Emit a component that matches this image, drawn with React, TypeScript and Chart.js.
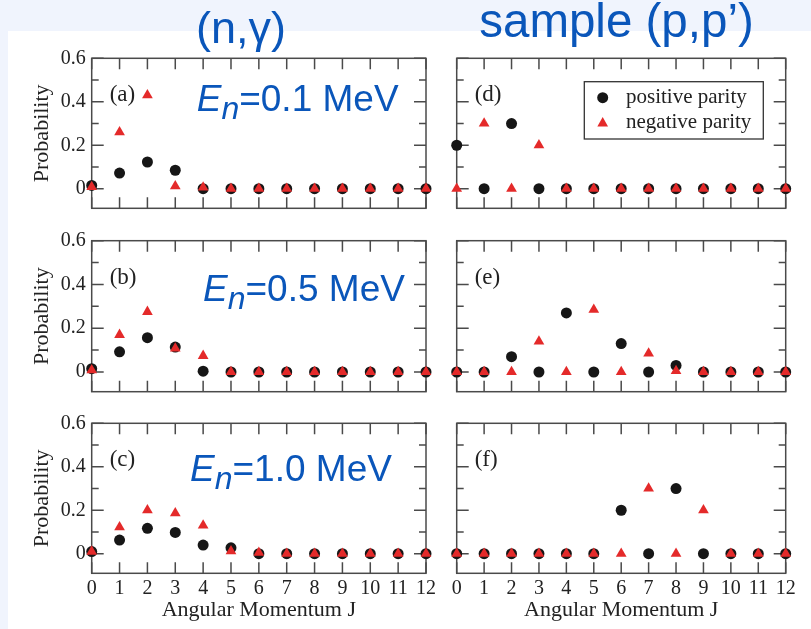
import React, { useEffect, useRef } from 'react';
import { Chart, registerables } from 'chart.js';

Chart.register(...registerables);

// ---------- data ----------
const angularMomentumJ = [0, 1, 2, 3, 4, 5, 6, 7, 8, 9, 10, 11, 12];
const yMajorTicks = [0, 0.2, 0.4, 0.6];
const yMinorTicks = [0.1, 0.3, 0.5];
const seriesNames = ['positive parity', 'negative parity'];
const panelLabels = ['(a)', '(b)', '(c)', '(d)', '(e)', '(f)'];
const energyValues = ['0.1', '0.5', '1.0'];
const columnTitles = ['(n,γ)', 'sample (p,p’)'];
const xAxisTitle = 'Angular Momentum J';
const yAxisTitle = 'Probability';

// (n,gamma) panels
const positiveA = [0.015, 0.072, 0.123, 0.085, 0, 0, 0, 0, 0, 0, 0, 0, 0];
const negativeA = [0.008, 0.26, 0.43, 0.012, 0.006, 0, 0, 0, 0, 0, 0, 0, 0];
const positiveB = [0.015, 0.092, 0.157, 0.114, 0.004, 0, 0, 0, 0, 0, 0, 0, 0];
const negativeB = [0.008, 0.17, 0.275, 0.108, 0.074, 0, 0, 0, 0, 0, 0, 0, 0];
const positiveC = [0.01, 0.063, 0.117, 0.098, 0.04, 0.027, 0, 0, 0, 0, 0, 0, 0];
const negativeC = [0.01, 0.122, 0.2, 0.187, 0.13, 0.012, 0.005, 0, 0, 0, 0, 0, 0];
// sample (p,p') panels
const positiveD = [0.2, 0, 0.3, 0, 0, 0, 0, 0, 0, 0, 0, 0, 0];
const negativeD = [0, 0.3, 0, 0.2, 0, 0, 0, 0, 0, 0, 0, 0, 0];
const positiveE = [0, 0, 0.07, 0, 0.27, 0, 0.13, 0, 0.03, 0, 0, 0, 0];
const negativeE = [0, 0, 0, 0.14, 0, 0.285, 0, 0.085, 0.005, 0, 0, 0, 0];
const positiveF = [0, 0, 0, 0, 0, 0, 0.2, 0, 0.3, 0, 0, 0, 0];
const negativeF = [0, 0, 0, 0, 0, 0, 0, 0.3, 0, 0.2, 0, 0, 0];

// ---------- styles / layout ----------
const SERIF = "'Liberation Serif', 'Times New Roman', Times, serif";
const SANS = "'Liberation Sans', Arial, Helvetica, sans-serif";
const BLUE = '#0a56ba';
const RED = '#e42a2a';
const BLACK = '#161616';
const AXIS = '#4a4a4a';
const TEXT = '#222222';

const COLS = [
  { left: 8, width: 433, padLeft: 0, padRight: 15, yWidth: 83.7, showY: true },
  { left: 441, width: 370, padLeft: 15.7, padRight: 25.3, yWidth: 0, showY: false },
];
const ROWS = [
  { top: 31, height: 189, padTop: 27.3, xHeight: 11.7, showX: false },
  { top: 220, height: 185, padTop: 20.7, xHeight: 13.3, showX: false },
  { top: 405, height: 224, padTop: 18.3, xHeight: 55.7, showX: true },
];
const ENERGY_POS = [
  { x: 196.7, baseline: 111.7 },
  { x: 203, baseline: 301.7 },
  { x: 190, baseline: 481.7 },
];
const TITLE_POS = [
  { cx: 241, baseline: 43.3, size: 45 },
  { cx: 616.5, baseline: 36.7, size: 47.5 },
];

const PANELS = [
  { col: 0, row: 0, pos: positiveA, neg: negativeA, legend: false },
  { col: 0, row: 1, pos: positiveB, neg: negativeB, legend: false },
  { col: 0, row: 2, pos: positiveC, neg: negativeC, legend: false },
  { col: 1, row: 0, pos: positiveD, neg: negativeD, legend: true },
  { col: 1, row: 1, pos: positiveE, neg: negativeE, legend: false },
  { col: 1, row: 2, pos: positiveF, neg: negativeF, legend: false },
];

function drawTriangle(ctx: CanvasRenderingContext2D, x: number, y: number, r: number) {
  ctx.beginPath();
  for (let k = 0; k < 3; k++) {
    const a = (k * 2 * Math.PI) / 3;
    const px = x + Math.sin(a) * r;
    const py = y - Math.cos(a) * r;
    if (k === 0) ctx.moveTo(px, py);
    else ctx.lineTo(px, py);
  }
  ctx.closePath();
  ctx.fill();
}

function makeOverlay(label: string, showLegend: boolean) {
  return {
    id: 'frameOverlay',
    beforeDatasetsDraw(chart: any) {
      const { ctx, chartArea } = chart;
      const { left, right, top, bottom } = chartArea;
      const xs = chart.scales.x;
      const ys = chart.scales.y;
      ctx.save();
      ctx.strokeStyle = AXIS;
      ctx.lineWidth = 1.5;
      ctx.strokeRect(left, top, right - left, bottom - top);
      ctx.beginPath();
      for (const j of angularMomentumJ) {
        const px = xs.getPixelForValue(j);
        ctx.moveTo(px, bottom);
        ctx.lineTo(px, bottom - 11);
        ctx.moveTo(px, top);
        ctx.lineTo(px, top + 11);
      }
      for (const v of yMajorTicks) {
        const py = ys.getPixelForValue(v);
        ctx.moveTo(left, py);
        ctx.lineTo(left + 12, py);
        ctx.moveTo(right, py);
        ctx.lineTo(right - 12, py);
      }
      for (const v of yMinorTicks) {
        const py = ys.getPixelForValue(v);
        ctx.moveTo(left, py);
        ctx.lineTo(left + 7, py);
        ctx.moveTo(right, py);
        ctx.lineTo(right - 7, py);
      }
      ctx.stroke();
      ctx.restore();
    },
    afterDatasetsDraw(chart: any) {
      const { ctx, chartArea } = chart;
      const { left, right, top } = chartArea;
      ctx.save();
      ctx.fillStyle = TEXT;
      ctx.font = `23px ${SERIF}`;
      ctx.textAlign = 'left';
      ctx.textBaseline = 'alphabetic';
      ctx.fillText(label, left + 18, top + 43);
      if (showLegend) {
        const bw = 179;
        const bh = 57.3;
        const bx = right - 22.4 - bw;
        const by = top + 23.4;
        ctx.fillStyle = '#ffffff';
        ctx.fillRect(bx, by, bw, bh);
        ctx.strokeStyle = '#333333';
        ctx.lineWidth = 1.3;
        ctx.strokeRect(bx, by, bw, bh);
        ctx.fillStyle = BLACK;
        ctx.beginPath();
        ctx.arc(bx + 18.4, top + 39.4, 5.5, 0, Math.PI * 2);
        ctx.fill();
        ctx.fillStyle = RED;
        drawTriangle(ctx, bx + 18.4, top + 65, 6.2);
        ctx.fillStyle = TEXT;
        ctx.font = `21px ${SERIF}`;
        ctx.fillText(seriesNames[0], bx + 41.7, top + 44.4);
        ctx.fillText(seriesNames[1], bx + 41.7, top + 70);
      }
      ctx.restore();
    },
  };
}

function zeroPadding(s: any) {
  s.paddingTop = 0;
  s.paddingBottom = 0;
  s.paddingLeft = 0;
  s.paddingRight = 0;
}

function Panel({ index }: { index: number }) {
  const ref = useRef<HTMLCanvasElement>(null);
  const p = PANELS[index];
  const c = COLS[p.col];
  const r = ROWS[p.row];
  useEffect(() => {
    const chart = new Chart(ref.current as HTMLCanvasElement, {
      type: 'scatter',
      data: {
        datasets: [
          {
            label: seriesNames[1],
            data: angularMomentumJ.map((j, i) => ({ x: j, y: p.neg[i] })),
            pointStyle: 'triangle',
            pointRadius: 6.2,
            backgroundColor: RED,
            borderColor: RED,
            borderWidth: 0,
            clip: false,
          } as any,
          {
            label: seriesNames[0],
            data: angularMomentumJ.map((j, i) => ({ x: j, y: p.pos[i] })),
            pointStyle: 'circle',
            pointRadius: 5.5,
            backgroundColor: BLACK,
            borderColor: BLACK,
            borderWidth: 0,
            clip: false,
          } as any,
        ],
      },
      options: {
        responsive: false,
        animation: false,
        devicePixelRatio: 1,
        layout: { padding: { left: c.padLeft, right: c.padRight, top: r.padTop, bottom: 0 } },
        plugins: { legend: { display: false }, tooltip: { enabled: false } },
        scales: {
          x: {
            type: 'linear',
            min: 0,
            max: 12,
            grid: { display: false, drawTicks: false },
            border: { display: false },
            afterBuildTicks: (s: any) => {
              s.ticks = angularMomentumJ.map((v) => ({ value: v }));
            },
            afterFit: (s: any) => {
              s.height = r.xHeight;
              zeroPadding(s);
            },
            ticks: {
              display: r.showX,
              padding: 3,
              autoSkip: false,
              maxRotation: 0,
              color: TEXT,
              font: { family: SERIF, size: 20 },
              callback: (v: any) => String(v),
            },
            title: {
              display: r.showX,
              text: xAxisTitle,
              color: TEXT,
              font: { family: SERIF, size: 22 },
              padding: { top: 0, bottom: 5.8 },
            },
          },
          y: {
            type: 'linear',
            min: -0.09,
            max: 0.6,
            grid: { display: false, drawTicks: false },
            border: { display: false },
            afterBuildTicks: (s: any) => {
              s.ticks = yMajorTicks.map((v) => ({ value: v }));
            },
            afterFit: (s: any) => {
              s.width = c.yWidth;
              zeroPadding(s);
            },
            ticks: {
              display: c.showY,
              padding: 6,
              color: TEXT,
              font: { family: SERIF, size: 20 },
              callback: (v: any) => (v === 0 ? '0' : Number(v).toFixed(1)),
            },
            title: {
              display: c.showY,
              text: yAxisTitle,
              color: TEXT,
              font: { family: SERIF, size: 22 },
              padding: { top: 20.8, bottom: 0 },
            },
          },
        },
      } as any,
      plugins: [makeOverlay(panelLabels[index], p.legend)],
    });
    return () => chart.destroy();
  }, []);
  return (
    <canvas
      ref={ref}
      width={c.width}
      height={r.height}
      style={{ position: 'absolute', left: c.left, top: r.top, width: c.width, height: r.height }}
    />
  );
}

export default function App() {
  const enSize = 37;
  return (
    <div
      style={{
        position: 'absolute',
        left: 0,
        top: 0,
        width: 811,
        height: 629,
        background: '#f0f4fd',
        overflow: 'hidden',
      }}
    >
      <div style={{ position: 'absolute', left: 8, top: 31, width: 803, height: 598, background: '#ffffff' }} />
      {PANELS.map((_, i) => (
        <Panel key={i} index={i} />
      ))}
      {columnTitles.map((t, i) => (
        <div
          key={'t' + i}
          style={{
            position: 'absolute',
            left: TITLE_POS[i].cx - 200,
            width: 400,
            top: TITLE_POS[i].baseline - 0.8465 * TITLE_POS[i].size,
            textAlign: 'center',
            fontFamily: SANS,
            fontSize: TITLE_POS[i].size,
            lineHeight: `${TITLE_POS[i].size}px`,
            color: BLUE,
            whiteSpace: 'nowrap',
          }}
        >
          {t}
        </div>
      ))}
      {energyValues.map((e, i) => (
        <div
          key={'e' + i}
          style={{
            position: 'absolute',
            left: ENERGY_POS[i].x,
            top: ENERGY_POS[i].baseline - 0.8465 * enSize,
            fontFamily: SANS,
            fontSize: enSize,
            lineHeight: `${enSize}px`,
            color: BLUE,
            whiteSpace: 'nowrap',
          }}
        >
          <span style={{ fontStyle: 'italic' }}>E</span>
          <span style={{ fontStyle: 'italic', fontSize: 32, position: 'relative', top: 8 }}>n</span>
          {`=${e} MeV`}
        </div>
      ))}
    </div>
  );
}
